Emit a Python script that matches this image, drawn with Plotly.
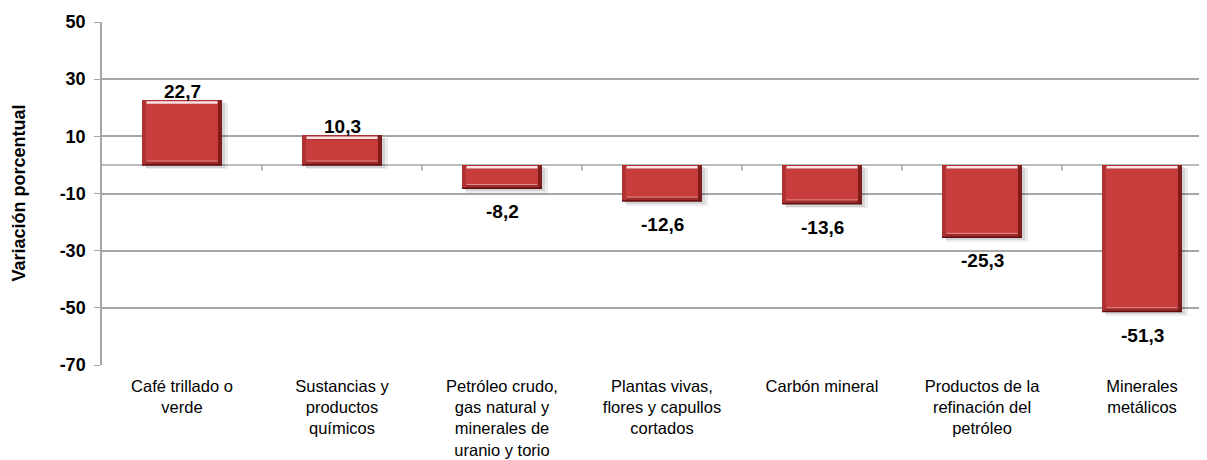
import plotly.graph_objects as go

categories = ["Café trillado o<br>verde", "Sustancias y<br>productos<br>químicos",
              "Petróleo crudo,<br>gas natural y<br>minerales de<br>uranio y torio",
              "Plantas vivas,<br>flores y capullos<br>cortados", "Carbón mineral",
              "Productos de la<br>refinación del<br>petróleo", "Minerales<br>metálicos"]
values = [22.7, 10.3, -8.2, -12.6, -13.6, -25.3, -51.3]
y_ticks = [-70, -50, -30, -10, 10, 30, 50]

FONT = "Liberation Sans, Arial, sans-serif"
GRAY = "#a6a6a6"
xs = list(range(len(values)))
W = 0.5
BX = 0.028   # bevel width (x units)
BY = 1.5     # bevel height (y units)

tops = [max(v, 0) for v in values]
bots = [min(v, 0) for v in values]
lens = [t - b for t, b in zip(tops, bots)]

fig = go.Figure()
def bar(x, base, length, width, color, **kw):
    fig.add_trace(go.Bar(x=x, y=length, base=base, width=width,
                         marker=dict(color=color, line=dict(width=0)),
                         hoverinfo="skip", showlegend=False, **kw))

# soft shadow
bar([x + 0.03 for x in xs], [b - 1.6 for b in bots], [l + 0.6 for l in lens], W + 0.01, "rgba(0,0,0,0.07)")
bar([x + 0.02 for x in xs], [b - 1.0 for b in bots], [l + 0.2 for l in lens], W, "rgba(0,0,0,0.10)")
# outer body
bar(xs, bots, lens, W, "#b13232")
# right dark bevel
bar([x + W / 2 - BX / 2 for x in xs], bots, lens, BX, "#7e1d1d")
# bottom bevel (darker)
bar(xs, bots, [BY] * len(xs), W - 2 * BX, "#a02a2a")
# main face
bar(xs, [b + BY for b in bots], [l - 2 * BY for l in lens], W - 2 * BX, "#c93c3c")

# highlight line near top, light line near bottom, dark bottom edge
hx, hy, lx, ly, dx, dy = [], [], [], [], [], []
for x, t, b in zip(xs, tops, bots):
    hx += [x - W / 2 + BX, x + W / 2 - BX, None]
    hy += [t - BY * 0.55] * 2 + [None]
    lx += [x - W / 2 + BX, x + W / 2 - BX, None]
    ly += [b + BY * 0.9] * 2 + [None]
    dx += [x - W / 2, x + W / 2, None]
    dy += [b, b, None]
fig.add_trace(go.Scatter(x=lx, y=ly, mode="lines", line=dict(color="rgba(240,170,170,0.8)", width=1),
                         hoverinfo="skip", showlegend=False))
fig.add_trace(go.Scatter(x=dx, y=dy, mode="lines", line=dict(color="#5e1010", width=1.5),
                         hoverinfo="skip", showlegend=False))
fig.add_trace(go.Scatter(x=hx, y=hy, mode="lines", line=dict(color="rgba(255,238,238,0.95)", width=2.5),
                         hoverinfo="skip", showlegend=False))

# value labels
for x, v in zip(xs, values):
    txt = f"{v:.1f}".replace(".", ",")
    if v >= 0:
        fig.add_annotation(x=x, y=v, text=txt, showarrow=False, yanchor="bottom", yshift=-4,
                           font=dict(family=FONT, size=19, color="black", weight="bold"))
    else:
        fig.add_annotation(x=x, y=v, text=txt, showarrow=False, yanchor="top", yshift=-11,
                           font=dict(family=FONT, size=19, color="black", weight="bold"))

# y-axis title
fig.add_annotation(xref="paper", yref="paper", x=0, y=0.5, xshift=-84, xanchor="center",
                   yanchor="middle", textangle=-90,
                   text="Variación porcentual", showarrow=False,
                   font=dict(family=FONT, size=18, color="black", weight="bold"))

# category tick marks on the zero line
for i in range(len(values) - 1):
    fig.add_shape(type="line", xref="x", yref="y", x0=i + 0.5, x1=i + 0.5, y0=0, y1=-2,
                  line=dict(color=GRAY, width=1.5))
fig.add_shape(type="line", xref="paper", yref="y", x0=0, x1=1, y0=0, y1=0,
              line=dict(color=GRAY, width=1.5), layer="below")

fig.update_layout(
    width=1199, height=452,
    margin=dict(l=94, r=1, t=14, b=95),
    plot_bgcolor="white", paper_bgcolor="white",
    barmode="overlay", bargap=0,
    font=dict(family=FONT, color="black"),
    xaxis=dict(range=[-0.5, 6.4], tickmode="array", tickvals=xs, ticktext=categories,
               tickfont=dict(size=16.5, family=FONT), showgrid=False, zeroline=False,
               showline=False, ticks="", automargin=False, ticklabelstandoff=9),
    yaxis=dict(range=[-70, 50], tickmode="array", tickvals=y_ticks,
               ticktext=[str(t) for t in y_ticks],
               tickfont=dict(size=18, family=FONT, weight="bold"),
               showgrid=True, gridcolor=GRAY, gridwidth=1.5, zeroline=False,
               showline=True, linecolor=GRAY, linewidth=1.5,
               ticks="outside", ticklen=6, tickcolor=GRAY, automargin=False,
               ticklabelstandoff=5),
)

fig.write_html("out.html")
